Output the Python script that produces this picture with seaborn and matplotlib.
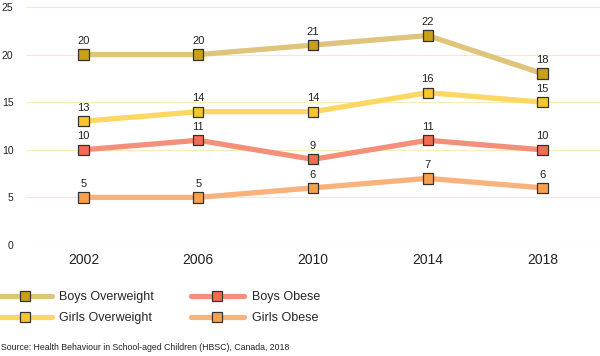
import pandas as pd
import numpy as np
import matplotlib.pyplot as plt
import seaborn as sns
from matplotlib.lines import Line2D

years = ['2002', '2006', '2010', '2014', '2018']
boys_overweight = [20, 20, 21, 22, 18]
girls_overweight = [13, 14, 14, 16, 15]
boys_obese = [10, 11, 9, 11, 10]
girls_obese = [5, 5, 6, 7, 6]

series_names = ['Boys Overweight', 'Girls Overweight', 'Boys Obese', 'Girls Obese']
line_colors = ['#dfc47c', '#fdd764', '#f4907a', '#f9b27c']
marker_colors = ['#c9a018', '#f7c62e', '#f26c50', '#f9a04c']

rows = []
for name, vals in zip(series_names, [boys_overweight, girls_overweight, boys_obese, girls_obese]):
    for i, (y, v) in enumerate(zip(years, vals)):
        rows.append({'pos': i, 'year': y, 'value': v, 'series': name})
df = pd.DataFrame(rows)

sns.set_style('white')
plt.rcParams['font.family'] = ['Liberation Sans', 'DejaVu Sans']

fig = plt.figure(figsize=(6, 3.56), dpi=100)
ax = fig.add_axes([26 / 600, 1 - 245 / 356, 574 / 600, 238 / 356])

sns.lineplot(data=df, x='pos', y='value', hue='series', hue_order=series_names,
             palette=line_colors, linewidth=3.8, legend=False, ax=ax, zorder=3)
sns.scatterplot(data=df, x='pos', y='value', hue='series', hue_order=series_names,
                palette=marker_colors, marker='s', s=55, edgecolor='#333333',
                linewidth=0.9, legend=False, ax=ax, zorder=4)

for name, vals in zip(series_names, [boys_overweight, girls_overweight, boys_obese, girls_obese]):
    for i, v in enumerate(vals):
        ax.annotate(str(v), (i, v), xytext=(0, 6), textcoords='offset points',
                    ha='center', va='bottom', fontsize=8, color='#222222')

ax.set_xlim(-0.5, 4.5)
ax.set_ylim(0, 25)
ax.set_yticks([0, 5, 10, 15, 20, 25])
ax.set_xticks(range(len(years)))
ax.set_xticklabels(years, fontsize=10, color='#222222')
ax.tick_params(axis='y', labelsize=7.5, colors='#222222', length=0, pad=9)
ax.tick_params(axis='x', length=0, pad=6)
ax.grid(axis='y', color='#f5ecbc', linewidth=0.8, zorder=0)
ax.set_xlabel('')
ax.set_ylabel('')
for s in ax.spines.values():
    s.set_visible(False)

handles = []
for lc, mc in zip(line_colors, marker_colors):
    handles.append(Line2D([0], [0], color=lc, linewidth=3.8, marker='s', markersize=6.5,
                          markerfacecolor=mc, markeredgecolor='#333333', markeredgewidth=0.9))
fig.legend(handles, series_names,
           loc='upper left', bbox_to_anchor=(-0.003, 1 - 291 / 356), ncol=2, frameon=False,
           fontsize=9, handlelength=4.3, handletextpad=0.6, columnspacing=2.9,
           labelspacing=0.75, borderaxespad=0, borderpad=0)

fig.text(0.002, 1 - 348 / 356, 'Source: Health Behaviour in School-aged Children (HBSC), Canada, 2018',
         fontsize=6.3, color='#222222', va='center', ha='left')

fig.savefig('out.png', dpi=100)
